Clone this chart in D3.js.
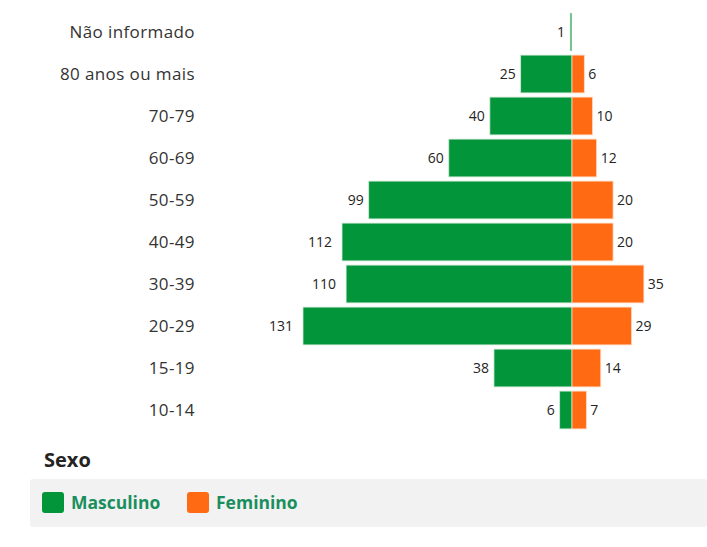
<!DOCTYPE html>
<html>
<head>
<meta charset="utf-8">
<script src="https://cdn.jsdelivr.net/npm/d3@7"></script>
<style>
  body { margin: 0; background: #fff; }
  svg { display: block; font-family: "Open Sans", "Noto Sans", sans-serif; }
</style>
</head>
<body>
<svg id="chart" width="707" height="547"></svg>
<script>
var faixas = ['Não informado', '80 anos ou mais', '70-79', '60-69', '50-59', '40-49', '30-39', '20-29', '15-19', '10-14']
var masculino = [1, 25, 40, 60, 99, 112, 110, 131, 38, 6]
var feminino = [0, 6, 10, 12, 20, 20, 35, 29, 14, 7]
var legendItems = ['Masculino', 'Feminino']

var w = 707
var h = 547
var cx = 572 // eixo central
var green = '#03953a'
var orange = '#ff6a13'

var svg = d3.select('#chart')

var rows = faixas.map((f, i) => ({faixa: f, m: masculino[i], f: feminino[i]}))

var y = d3.scaleBand()
    .domain(faixas)
    .range([11, 431])
    .paddingInner(0.1)
    .paddingOuter(0.05)

var x = d3.scaleLinear()
    .domain([0, 131])
    .range([0, 269])

// category labels
svg.append('g').selectAll('text')
    .data(rows)
    .enter().append('text')
    .attr('x', 195)
    .attr('y', d => y(d.faixa) + y.bandwidth() / 2)
    .attr('dy', '0.35em')
    .attr('text-anchor', 'end')
    .attr('fill', '#333')
    .style('font-size', '17px')
    .style('letter-spacing', '0.4px')
    .text(d => d.faixa)

var bars = svg.append('g')

bars.selectAll('rect.m')
    .data(rows)
    .enter().append('rect')
    .attr('class', 'm')
    .attr('x', d => cx - x(d.m))
    .attr('y', d => y(d.faixa))
    .attr('width', d => x(d.m))
    .attr('height', y.bandwidth())
    .attr('fill', green)
    .attr('stroke', d => d.m < 2 ? 'none' : '#cfe9d7')
    .attr('stroke-width', 0.8)
    .attr('opacity', d => d.m < 2 ? 0.55 : 1)

bars.selectAll('rect.f')
    .data(rows.filter(d => d.f > 0))
    .enter().append('rect')
    .attr('class', 'f')
    .attr('x', cx)
    .attr('y', d => y(d.faixa))
    .attr('width', d => x(d.f))
    .attr('height', y.bandwidth())
    .attr('fill', orange)
    .attr('stroke', '#ffd9c2')
    .attr('stroke-width', 0.8)

// value labels
bars.selectAll('text.vm')
    .data(rows)
    .enter().append('text')
    .attr('x', d => cx - x(d.m) - (d.m >= 100 ? 10 : 5))
    .attr('y', d => y(d.faixa) + y.bandwidth() / 2)
    .attr('dy', '0.35em')
    .attr('text-anchor', 'end')
    .attr('fill', '#252423')
    .style('font-size', '14px')
    .text(d => d.m)

bars.selectAll('text.vf')
    .data(rows.filter(d => d.f > 0))
    .enter().append('text')
    .attr('x', d => cx + x(d.f) + 4)
    .attr('y', d => y(d.faixa) + y.bandwidth() / 2)
    .attr('dy', '0.35em')
    .attr('fill', '#252423')
    .style('font-size', '14px')
    .text(d => d.f)

// legend
svg.append('text')
    .attr('x', 44)
    .attr('y', 467)
    .attr('fill', '#252423')
    .style('font-size', '20px')
    .style('font-weight', 'bold')
    .text('Sexo')

svg.append('rect')
    .attr('x', 30)
    .attr('y', 479)
    .attr('width', w - 30)
    .attr('height', 48)
    .attr('rx', 3)
    .attr('fill', '#f2f2f2')

var color = d3.scaleOrdinal().domain(legendItems).range([green, orange])
var legendX = [42, 187]

var lg = svg.append('g').selectAll('g')
    .data(legendItems)
    .enter().append('g')
    .attr('transform', (d, i) => `translate(${legendX[i]},492)`)

lg.append('rect')
    .attr('width', 22)
    .attr('height', 21)
    .attr('rx', 3)
    .attr('fill', d => color(d))

lg.append('text')
    .attr('x', 29)
    .attr('y', 11)
    .attr('dy', '0.35em')
    .attr('fill', '#1a8f5e')
    .style('font-size', '17.5px')
    .style('font-weight', 'bold')
    .text(d => d)
</script>
</body>
</html>
